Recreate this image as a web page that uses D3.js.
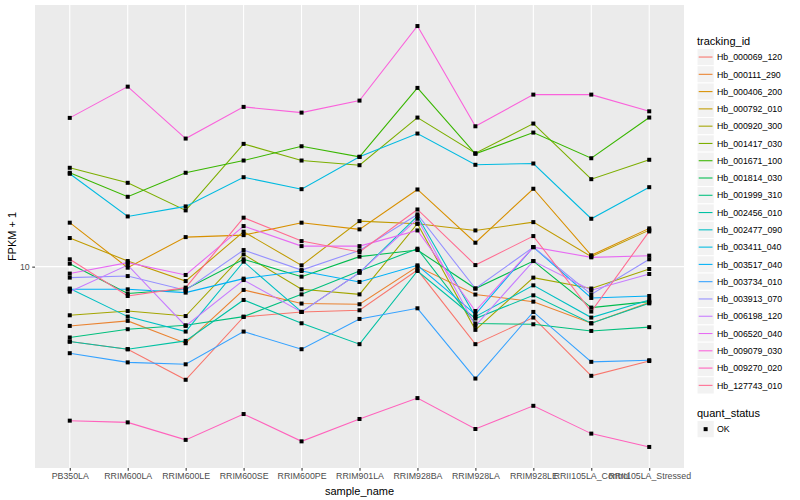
<!DOCTYPE html>
<html>
<head>
<meta charset="utf-8">
<script src="https://cdnjs.cloudflare.com/ajax/libs/d3/7.8.5/d3.min.js"></script>
<style>
body { margin: 0; background: #fff; }
text { font-family: "Liberation Sans", Arial, sans-serif; }
</style>
</head>
<body>
<div id="chart"></div>
<script>
var samples = ["PB350LA", "RRIM600LA", "RRIM600LE", "RRIM600SE", "RRIM600PE", "RRIM901LA",
	"RRIM928BA", "RRIM928LA", "RRIM928LE", "RRII105LA_Control", "RRII105LA_Stressed"];

var trackingIds = ["Hb_000069_120", "Hb_000111_290", "Hb_000406_200", "Hb_000792_010", "Hb_000920_300",
	"Hb_001417_030", "Hb_001671_100", "Hb_001814_030", "Hb_001999_310", "Hb_002456_010",
	"Hb_002477_090", "Hb_003411_040", "Hb_003517_040", "Hb_003734_010", "Hb_003913_070",
	"Hb_006198_120", "Hb_006520_040", "Hb_009079_030", "Hb_009270_020", "Hb_127743_010"];

var colors = ["#F8766D", "#EA8331", "#D89000", "#C09B00", "#A3A500", "#7CAE00", "#39B600", "#00BB4E",
	"#00BF7D", "#00C1A3", "#00BFC4", "#00BAE0", "#00B0F6", "#35A2FF", "#9590FF", "#C77CFF",
	"#E76BF3", "#FA62DB", "#FF62BC", "#FF6C91"];

// FPKM + 1, one array per tracking_id, in sample order
var Hb_000069_120 = [5.62, 5.30, 4.19, 6.79, 7.06, 7.15, 9.74, 5.51, 6.76, 4.32, 4.84];
var Hb_000111_290 = [6.34, 6.59, 5.55, 8.36, 7.53, 7.49, 10.00, 8.07, 7.64, 6.47, 7.59];
var Hb_000406_200 = [14.02, 9.92, 12.55, 12.74, 14.02, 13.32, 18.10, 12.02, 18.20, 10.91, 13.42];
var Hb_000792_010 = [12.46, 10.44, 8.95, 13.08, 10.10, 14.19, 13.91, 13.21, 14.08, 10.80, 13.24];
var Hb_000920_300 = [6.88, 7.11, 6.84, 10.99, 8.40, 8.08, 13.91, 6.15, 9.19, 8.45, 9.82];
var Hb_001417_030 = [21.38, 19.05, 15.41, 25.70, 22.61, 21.81, 31.46, 23.91, 30.04, 19.59, 22.74];
var Hb_001671_100 = [20.58, 17.11, 20.58, 22.61, 25.23, 23.26, 39.52, 23.81, 28.03, 23.01, 31.46];
var Hb_001814_030 = [10.23, 8.13, 8.40, 10.58, 9.26, 10.80, 11.36, 8.45, 10.44, 7.30, 7.64];
var Hb_001999_310 = [5.80, 6.18, 6.37, 6.81, 8.08, 9.67, 11.48, 6.46, 6.42, 6.10, 6.28];
var Hb_002456_010 = [5.62, 5.30, 5.65, 7.74, 6.47, 5.51, 9.67, 6.71, 8.02, 6.47, 7.54];
var Hb_002477_090 = [8.45, 6.81, 6.07, 10.39, 7.06, 9.55, 14.75, 6.81, 8.66, 6.76, 7.74];
var Hb_003411_040 = [20.42, 14.71, 15.89, 19.89, 18.14, 23.26, 27.82, 21.88, 22.10, 14.45, 18.42];
var Hb_003517_040 = [8.40, 8.40, 8.19, 9.12, 9.67, 8.89, 10.10, 6.93, 11.62, 7.86, 7.98];
var Hb_003734_010 = [5.14, 4.79, 4.72, 6.07, 5.30, 6.69, 7.26, 4.23, 7.06, 4.81, 4.87];
var Hb_003913_070 = [9.19, 9.30, 8.34, 11.36, 9.74, 11.33, 14.94, 8.45, 11.62, 8.08, 10.58];
var Hb_006198_120 = [8.25, 10.12, 6.34, 9.02, 7.06, 9.55, 14.45, 6.34, 10.44, 8.34, 9.45];
var Hb_006520_040 = [9.48, 10.31, 9.38, 13.66, 11.71, 11.71, 13.21, 7.11, 11.62, 10.74, 10.88];
var Hb_009079_030 = [31.38, 39.90, 26.77, 34.15, 32.68, 35.84, 63.58, 29.42, 37.53, 37.53, 33.01];
var Hb_009270_020 = [3.06, 3.02, 2.64, 3.22, 2.61, 3.10, 3.64, 2.87, 3.43, 2.77, 2.50];
var Hb_127743_010 = [10.58, 7.98, 8.51, 14.57, 12.17, 11.19, 15.52, 10.12, 12.65, 7.08, 13.11];

var seriesValues = [Hb_000069_120, Hb_000111_290, Hb_000406_200, Hb_000792_010, Hb_000920_300,
	Hb_001417_030, Hb_001671_100, Hb_001814_030, Hb_001999_310, Hb_002456_010,
	Hb_002477_090, Hb_003411_040, Hb_003517_040, Hb_003734_010, Hb_003913_070,
	Hb_006198_120, Hb_006520_040, Hb_009079_030, Hb_009270_020, Hb_127743_010];

var yTicks = [10];

var W = 800, H = 500;
var panel = {left: 35, right: 684, top: 5, bottom: 468};

var series = trackingIds.map(function(id, i) {
	return {id: id, color: colors[i], values: seriesValues[i].map(function(v, j) {
		return {sample: samples[j], value: v};
	})};
});

var allVals = d3.merge(seriesValues);
var logExt = d3.extent(allVals).map(Math.log10);
var pad = (logExt[1] - logExt[0]) * 0.05;

var x = d3.scalePoint().domain(samples).range([panel.left, panel.right]).padding(0.6);
var y = d3.scaleLog()
	.domain([Math.pow(10, logExt[0] - pad), Math.pow(10, logExt[1] + pad)])
	.range([panel.bottom, panel.top]);

var svg = d3.select("#chart").append("svg")
	.attr("width", W)
	.attr("height", H);

svg.append("rect")
	.attr("x", panel.left)
	.attr("y", panel.top)
	.attr("width", panel.right - panel.left)
	.attr("height", panel.bottom - panel.top)
	.attr("fill", "#EBEBEB");

var grid = svg.append("g").attr("class", "grid");
grid.selectAll("line.gx").data(samples).enter().append("line")
	.attr("x1", function(d) { return x(d); })
	.attr("x2", function(d) { return x(d); })
	.attr("y1", panel.top)
	.attr("y2", panel.bottom)
	.style("stroke", "#fff")
	.style("stroke-width", 1.07);
grid.selectAll("line.gy").data(yTicks).enter().append("line")
	.attr("x1", panel.left)
	.attr("x2", panel.right)
	.attr("y1", function(d) { return y(d); })
	.attr("y2", function(d) { return y(d); })
	.style("stroke", "#fff")
	.style("stroke-width", 1.07);

var line = d3.line()
	.x(function(d) { return x(d.sample); })
	.y(function(d) { return y(d.value); });

svg.append("g").selectAll("path").data(series).enter().append("path")
	.attr("d", function(d) { return line(d.values); })
	.attr("fill", "none")
	.style("stroke", function(d) { return d.color; })
	.style("stroke-width", 1.07);

svg.append("g").selectAll("rect").data(d3.merge(series.map(function(s) { return s.values; })))
	.enter().append("rect")
	.attr("x", function(d) { return x(d.sample) - 2; })
	.attr("y", function(d) { return y(d.value) - 2; })
	.attr("width", 4)
	.attr("height", 4)
	.attr("fill", "#000");

var xAxis = d3.axisBottom(x).tickSize(2.75).tickPadding(2.5);
var gx = svg.append("g")
	.attr("transform", "translate(0," + panel.bottom + ")")
	.call(xAxis);
gx.select(".domain").remove();
gx.selectAll(".tick line").style("stroke", "#333333").style("stroke-width", 1.07);
gx.selectAll(".tick text")
	.style("font-size", "8.8px")
	.style("fill", "#4D4D4D")
	.style("font-family", "Liberation Sans, Arial, sans-serif");

var yAxis = d3.axisLeft(y).tickValues(yTicks).tickFormat(d3.format("d")).tickSize(2.75).tickPadding(2.5);
var gy = svg.append("g")
	.attr("transform", "translate(" + panel.left + ",0)")
	.call(yAxis);
gy.select(".domain").remove();
gy.selectAll(".tick line").style("stroke", "#333333").style("stroke-width", 1.07);
gy.selectAll(".tick text")
	.style("font-size", "8.8px")
	.style("fill", "#4D4D4D")
	.style("font-family", "Liberation Sans, Arial, sans-serif");

svg.append("text")
	.attr("x", (panel.left + panel.right) / 2)
	.attr("y", 495)
	.attr("text-anchor", "middle")
	.style("font-size", "11px")
	.text("sample_name");

svg.append("text")
	.attr("transform", "translate(16," + ((panel.top + panel.bottom) / 2) + ") rotate(-90)")
	.attr("text-anchor", "middle")
	.style("font-size", "11px")
	.text("FPKM + 1");

var legend = svg.append("g").attr("transform", "translate(697,0)");

legend.append("text")
	.attr("x", 0)
	.attr("y", 44.5)
	.style("font-size", "11px")
	.text("tracking_id");

var keyH = 17.28;
var keys = legend.selectAll("g.key").data(series).enter().append("g")
	.attr("class", "key")
	.attr("transform", function(d, i) { return "translate(0," + (48.4 + i * keyH) + ")"; });

keys.append("rect")
	.attr("width", 17.28)
	.attr("height", keyH)
	.attr("fill", "#F2F2F2")
	.style("stroke", "#fff")
	.style("stroke-width", 1);

keys.append("line")
	.attr("x1", 1.7)
	.attr("x2", 15.5)
	.attr("y1", keyH / 2)
	.attr("y2", keyH / 2)
	.style("stroke", function(d) { return d.color; })
	.style("stroke-width", 1.07);

keys.append("text")
	.attr("x", 20)
	.attr("y", keyH / 2 + 3.2)
	.style("font-size", "8.8px")
	.text(function(d) { return d.id; });

legend.append("text")
	.attr("x", 0)
	.attr("y", 416.5)
	.style("font-size", "11px")
	.text("quant_status");

var okKey = legend.append("g").attr("transform", "translate(0,420.5)");
okKey.append("rect")
	.attr("width", 17.28)
	.attr("height", keyH)
	.attr("fill", "#F2F2F2")
	.style("stroke", "#fff");
okKey.append("rect")
	.attr("x", keyH / 2 - 2)
	.attr("y", keyH / 2 - 2)
	.attr("width", 4)
	.attr("height", 4)
	.attr("fill", "#000");
okKey.append("text")
	.attr("x", 20)
	.attr("y", keyH / 2 + 3.2)
	.style("font-size", "8.8px")
	.text("OK");
</script>
</body>
</html>
